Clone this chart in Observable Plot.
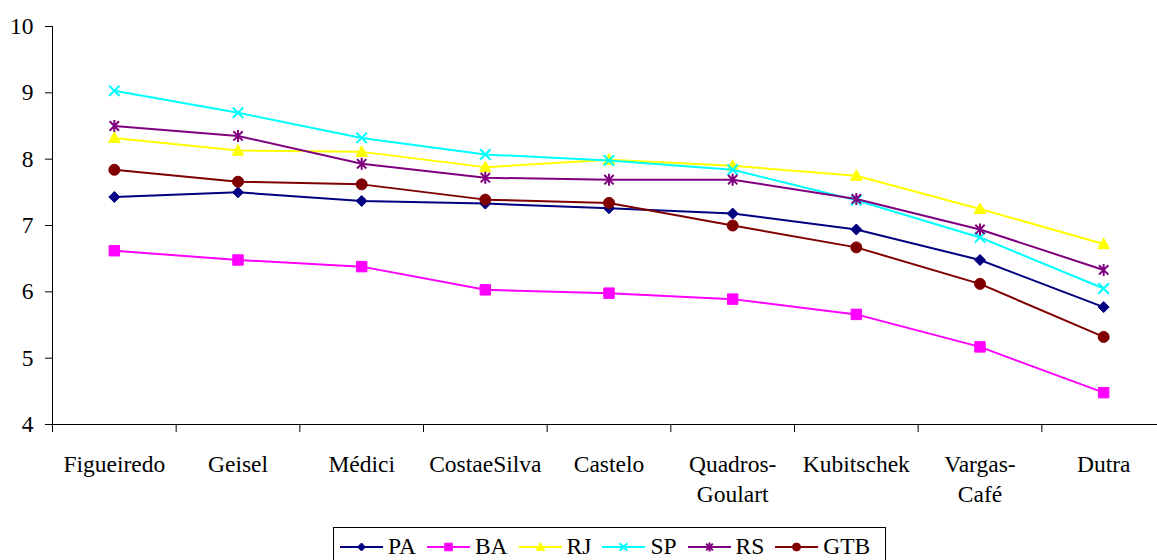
<!DOCTYPE html>
<html>
<head>
<meta charset="utf-8">
<script src="https://cdn.jsdelivr.net/npm/d3@7"></script>
<script src="https://cdn.jsdelivr.net/npm/@observablehq/plot@0.6"></script>
</head>
<body style="margin:0;background:#fff;font:23.5px 'Liberation Serif', serif">
<div id="chart" style="position:relative;width:1157px;height:560px;overflow:hidden;background:#fff;font:23.5px 'Liberation Serif', serif"></div>
<script>
// Presidential periods (x categories) and their axis labels
const presidents = ["Figueiredo", "Geisel", "Médici", "CostaeSilva", "Castelo",
                    "Quadros-Goulart", "Kubitschek", "Vargas-Café", "Dutra"];
const tickLabels = ["Figueiredo", "Geisel", "Médici", "CostaeSilva", "Castelo",
                    "Quadros-\nGoulart", "Kubitschek", "Vargas-\nCafé", "Dutra"];
const yTicks = [4, 5, 6, 7, 8, 9, 10];

// Series values, one per period
const PA  = [7.43, 7.50, 7.37, 7.33, 7.26, 7.18, 6.94, 6.48, 5.77];
const BA  = [6.62, 6.48, 6.38, 6.03, 5.98, 5.89, 5.66, 5.17, 4.48];
const RJ  = [8.32, 8.13, 8.11, 7.88, 7.99, 7.90, 7.75, 7.25, 6.72];
const SP  = [9.03, 8.70, 8.32, 8.07, 7.98, 7.84, 7.38, 6.82, 6.05];
const RS  = [8.50, 8.35, 7.93, 7.72, 7.69, 7.69, 7.40, 6.94, 6.33];
const GTB = [7.84, 7.66, 7.62, 7.39, 7.34, 7.00, 6.67, 6.12, 5.32];

const seriesNames  = ["PA", "BA", "RJ", "SP", "RS", "GTB"];
const seriesValues = [PA, BA, RJ, SP, RS, GTB];
const seriesColors = ["#000080", "#FF00FF", "#FFFF00", "#00FFFF", "#800080", "#800000"];

// Marker shapes (size = π r²)
const rad = (size) => Math.sqrt(size / Math.PI);
const shapes = {
  diamond: { draw(c, size) { const r = rad(size); c.moveTo(0, -r); c.lineTo(r, 0); c.lineTo(0, r); c.lineTo(-r, 0); c.closePath(); } },
  square:  { draw(c, size) { const r = rad(size) * 0.95; c.rect(-r, -r, 2 * r, 2 * r); } },
  triangle:{ draw(c, size) { const r = rad(size) * 1.05; c.moveTo(0, -r * 1.05); c.lineTo(r, r * 0.8); c.lineTo(-r, r * 0.8); c.closePath(); } },
  cross:   { draw(c, size) { const r = rad(size) * 0.95; c.moveTo(-r, -r); c.lineTo(r, r); c.moveTo(r, -r); c.lineTo(-r, r); } },
  star:    { draw(c, size) { const r = rad(size); const k = r * 0.85; c.moveTo(-k, -k); c.lineTo(k, k); c.moveTo(k, -k); c.lineTo(-k, k); c.moveTo(0, -r * 1.1); c.lineTo(0, r * 1.1); } },
  circle:  { draw(c, size) { const r = rad(size); c.moveTo(r, 0); c.arc(0, 0, r, 0, 2 * Math.PI); } }
};
const seriesShapes = [shapes.diamond, shapes.square, shapes.triangle, shapes.cross, shapes.star, shapes.circle];
const strokeOnly   = [false, false, false, true, true, false];

// Long-format table for Plot
const rows = seriesNames.flatMap((name, s) =>
  seriesValues[s].map((v, i) => ({ series: name, president: presidents[i], value: v })));

const xRange = [52, 1165];
const step = (xRange[1] - xRange[0]) / presidents.length;
const serif = "'Liberation Serif', serif";

const seriesMarks = seriesNames.flatMap((name, s) => {
  const filter = (d) => d.series === name;
  const color = seriesColors[s];
  return [
    Plot.line(rows, { filter, x: "president", y: "value", stroke: color, strokeWidth: 2 }),
    Plot.dot(rows, {
      filter, x: "president", y: "value", r: 5.5, symbol: seriesShapes[s],
      fill: strokeOnly[s] ? "none" : color, stroke: color, strokeWidth: strokeOnly[s] ? 2 : 1
    })
  ];
});

const chart = Plot.plot({
  width: 1157,
  height: 522,
  marginLeft: 52,
  marginRight: 0,
  marginTop: 26,
  marginBottom: 98,
  style: "font: 23.5px 'Liberation Serif', serif; color: #000; background: #fff; overflow: visible;",
  x: { type: "point", domain: presidents, range: xRange, padding: 0.5, round: false, label: null },
  y: { domain: [4, 10], label: null },
  marks: [
    Plot.frame({ anchor: "left", stroke: "#000" }),
    Plot.frame({ anchor: "bottom", stroke: "#000" }),
    Plot.axisY({ ticks: yTicks, tickSize: 7, tickPadding: 12, label: null, fontSize: 23.5, fontFamily: serif,
                 tickFormat: (d) => String(d) }),
    Plot.axisX({ ticks: presidents, tickSize: 8, tickFormat: () => "", dx: -step / 2, label: null }),
    Plot.axisX({ ticks: presidents, tickSize: 0, tickPadding: 26, label: null, fontSize: 23.5, fontFamily: serif,
                 lineHeight: 1.28, tickFormat: (d) => tickLabels[presidents.indexOf(d)] }),
    ...seriesMarks
  ]
});

const root = document.getElementById("chart");
root.appendChild(chart);

// Legend below the plot
const legend = d3.select(root).append("div")
  .attr("style", "position:absolute;left:333px;top:527px;width:553px;height:40px;box-sizing:border-box;" +
                 "border:1px solid #000;background:#fff;display:flex;align-items:flex-start;padding:7px 0 0 6px");
seriesNames.forEach((name, s) => {
  const item = legend.append("div").attr("style", "display:flex;align-items:center;margin-right:11px");
  const sw = item.append("svg").attr("width", 43).attr("height", 14);
  sw.append("line").attr("x1", 0).attr("x2", 43).attr("y1", 7).attr("y2", 7)
    .attr("stroke", seriesColors[s]).attr("stroke-width", 2);
  sw.append("path").attr("transform", "translate(21.5,7)")
    .attr("d", d3.symbol().type(seriesShapes[s]).size(Math.PI * 4 * 4)())
    .attr("fill", strokeOnly[s] ? "none" : seriesColors[s])
    .attr("stroke", seriesColors[s]).attr("stroke-width", strokeOnly[s] ? 2 : 1);
  item.append("span")
    .attr("style", "font:23.5px 'Liberation Serif', serif;line-height:1;margin-left:5px;color:#000")
    .text(name);
});
</script>
</body>
</html>
